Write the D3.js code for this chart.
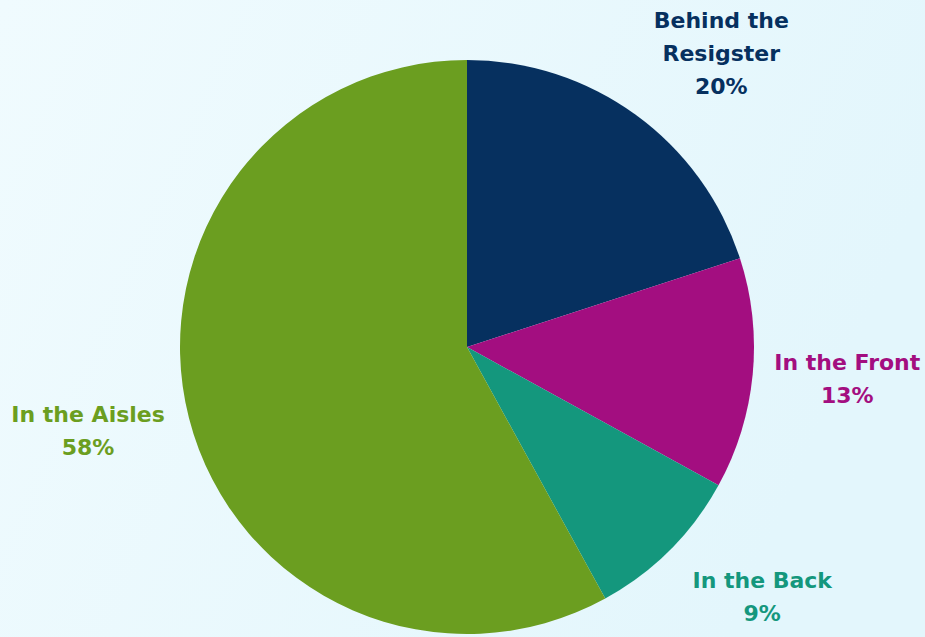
<!DOCTYPE html>
<html><head><meta charset="utf-8">
<script src="https://cdn.jsdelivr.net/npm/d3@7"></script>
<style>html,body{margin:0;padding:0;overflow:hidden}</style>
</head><body>
<svg id="chart" width="925" height="637"></svg>
<script>
const categories = ["Behind the Resigster", "In the Front", "In the Back", "In the Aisles"];
const labelLines = [["Behind the", "Resigster"], ["In the Front"], ["In the Back"], ["In the Aisles"]];
const values = [20, 13, 9, 58];
const colors = ["#06305f", "#a30e80", "#14977d", "#6b9e20"];

const W = 925, H = 637;
const cx = 467, cy = 347, R = 287, labelR = 385;
const nudge = {"Behind the Resigster":[28,17], "In the Front":[-3,-5], "In the Back":[23,-23], "In the Aisles":[-6,-12]};

const svg = d3.select("#chart");
const defs = svg.append("defs");
const g1 = defs.append("linearGradient").attr("id","bg").attr("x1","0").attr("y1","0").attr("x2","1").attr("y2","0.3");
g1.append("stop").attr("offset","0").attr("stop-color","#f0fbfe");
g1.append("stop").attr("offset","1").attr("stop-color","#e3f6fc");
svg.append("rect").attr("width",W).attr("height",H).attr("fill","url(#bg)");

const data = categories.map((c,i)=>({cat:c, value:values[i], lines:labelLines[i], color:colors[i]}));
const pie = d3.pie().value(d=>d.value).sort(null);
const arcs = pie(data);
const arc = d3.arc().innerRadius(0).outerRadius(R);
const outer = d3.arc().innerRadius(labelR).outerRadius(labelR);

const g = svg.append("g").attr("transform",`translate(${cx},${cy})`);
g.selectAll("path").data(arcs).join("path")
  .attr("d",arc).attr("fill",d=>d.data.color);

const lh = 33;
const lab = svg.append("g");
arcs.forEach(a=>{
  const [x,y] = outer.centroid(a);
  const n = a.data.lines.length + 1;
  const [dx,dy] = nudge[a.data.cat];
  const lx = cx + x + dx, ly = cy + y + dy;
  const t = lab.append("text")
    .attr("text-anchor","middle")
    .attr("font-family","'DejaVu Sans', sans-serif")
    .attr("font-weight","bold")
    .attr("font-size",22)
    .attr("fill",a.data.color);
  const all = a.data.lines.concat([Math.round(a.data.value)+"%"]);
  all.forEach((s,i)=>{
    t.append("tspan").attr("x",lx).attr("y", ly - (n-1)*lh/2 + i*lh + 8).text(s);
  });
});
</script>
</body></html>
